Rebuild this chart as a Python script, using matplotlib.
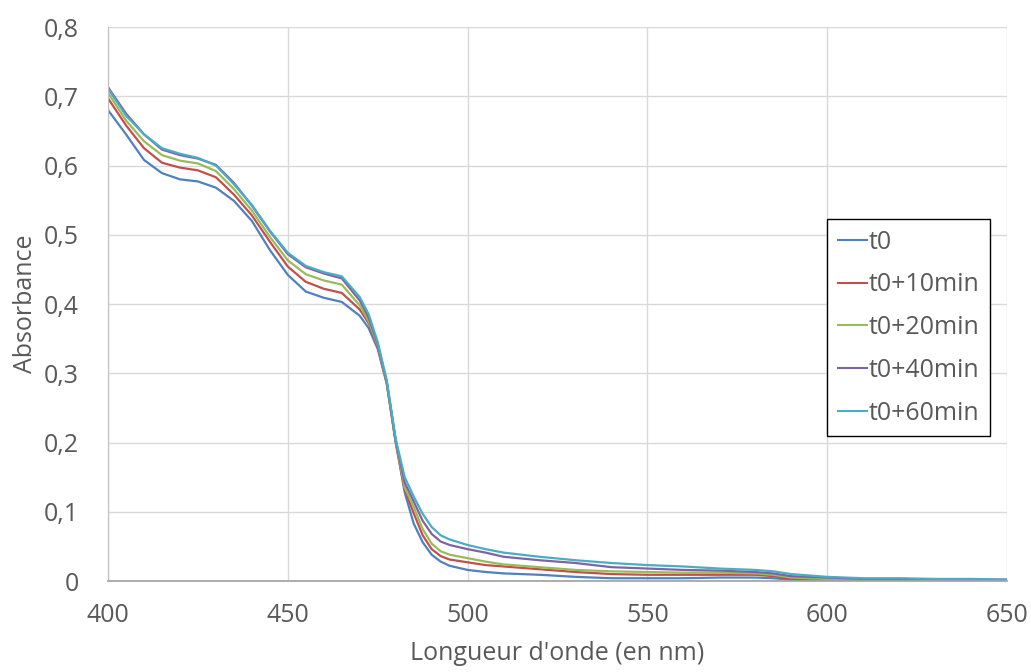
import matplotlib.pyplot as plt

plt.rcParams['font.family'] = ['Open Sans', 'DejaVu Sans']

wavelength = [400, 405, 410, 415, 420, 425, 430, 435, 440, 445, 450, 455, 460, 465,
              470, 472.5, 475, 477.5, 480, 482.5, 485, 487.5, 490, 492.5, 495,
              500, 505, 510, 520, 530, 540, 550, 560, 570, 580, 585, 590,
              600, 610, 620, 630, 640, 650]

t0 = [0.680, 0.645, 0.608, 0.589, 0.580, 0.577, 0.568, 0.549, 0.520, 0.478, 0.442, 0.418, 0.409, 0.403,
      0.383, 0.365, 0.335, 0.285, 0.200, 0.128, 0.083, 0.056, 0.038, 0.028, 0.022,
      0.016, 0.013, 0.011, 0.009, 0.006, 0.004, 0.004, 0.004, 0.005, 0.005, 0.004, 0.002,
      0.001, 0.001, 0.001, 0.001, 0.001, 0.001]

t10 = [0.697, 0.658, 0.625, 0.604, 0.597, 0.593, 0.583, 0.558, 0.528, 0.490, 0.454, 0.432, 0.422, 0.416,
       0.392, 0.372, 0.338, 0.286, 0.201, 0.132, 0.098, 0.066, 0.046, 0.036, 0.031,
       0.027, 0.023, 0.021, 0.017, 0.013, 0.010, 0.009, 0.009, 0.009, 0.009, 0.007, 0.003,
       0.002, 0.001, 0.001, 0.001, 0.001, 0.001]

t20 = [0.705, 0.665, 0.635, 0.615, 0.607, 0.603, 0.592, 0.566, 0.535, 0.497, 0.463, 0.443, 0.434, 0.428,
       0.398, 0.375, 0.340, 0.287, 0.202, 0.135, 0.107, 0.075, 0.054, 0.043, 0.038,
       0.033, 0.028, 0.024, 0.020, 0.016, 0.014, 0.013, 0.012, 0.012, 0.011, 0.009, 0.005,
       0.003, 0.002, 0.002, 0.002, 0.002, 0.001]

t40 = [0.713, 0.675, 0.645, 0.623, 0.615, 0.610, 0.601, 0.575, 0.542, 0.505, 0.472, 0.453, 0.444, 0.437,
       0.405, 0.380, 0.342, 0.288, 0.203, 0.142, 0.115, 0.087, 0.068, 0.057, 0.052,
       0.046, 0.041, 0.035, 0.030, 0.026, 0.020, 0.018, 0.016, 0.015, 0.013, 0.011, 0.007,
       0.005, 0.003, 0.003, 0.002, 0.002, 0.002]

t60 = [0.711, 0.672, 0.645, 0.625, 0.617, 0.611, 0.600, 0.573, 0.543, 0.506, 0.474, 0.455, 0.446, 0.440,
       0.410, 0.385, 0.345, 0.290, 0.205, 0.150, 0.122, 0.097, 0.078, 0.066, 0.060,
       0.052, 0.046, 0.041, 0.035, 0.030, 0.026, 0.023, 0.021, 0.018, 0.016, 0.014, 0.010,
       0.006, 0.004, 0.004, 0.003, 0.003, 0.002]

labels = ['t0', 't0+10min', 't0+20min', 't0+40min', 't0+60min']
colors = ['#4F81BD', '#C0504D', '#9BBB59', '#8064A2', '#4BACC6']

x_ticks = [400, 450, 500, 550, 600, 650]
y_ticks = [0, 0.1, 0.2, 0.3, 0.4, 0.5, 0.6, 0.7, 0.8]
y_ticklabels = ['0', '0,1', '0,2', '0,3', '0,4', '0,5', '0,6', '0,7', '0,8']

fs = 18
txt_col = '#595959'

fig = plt.figure(figsize=(10.31, 6.72), dpi=100)
ax = fig.add_axes([0.1048, 0.1354, 0.8719, 0.8244])

for series, lab, col in zip([t0, t10, t20, t40, t60], labels, colors):
    ax.plot(wavelength, series, color=col, lw=1.6, label=lab)

ax.set_xlim(400, 650)
ax.set_ylim(0, 0.8)
ax.set_xticks(x_ticks)
ax.set_yticks(y_ticks)
ax.set_yticklabels(y_ticklabels)
ax.tick_params(axis='both', length=0, labelsize=fs, colors=txt_col)
ax.tick_params(axis='y', pad=21)
ax.tick_params(axis='x', pad=16)

ax.grid(True, color='#D9D9D9', lw=1)
ax.set_axisbelow(True)
for s in ['top', 'right']:
    ax.spines[s].set_visible(False)
ax.spines['left'].set_color('#BFBFBF')
ax.spines['bottom'].set_color('#A6A6A6')
ax.spines['bottom'].set_linewidth(1.3)

ax.set_xlabel("Longueur d'onde (en nm)", fontsize=fs, color=txt_col, labelpad=9)
ax.set_ylabel('Absorbance', fontsize=fs, color=txt_col, labelpad=4)

leg = ax.legend(loc='upper left', bbox_to_anchor=(0.7998, 0.6534), borderaxespad=0,
                fontsize=fs, handlelength=1.16, handletextpad=0.1, labelspacing=0.71,
                borderpad=0.42, fancybox=False, framealpha=1, edgecolor='black')
leg.get_frame().set_linewidth(1.0)
for t in leg.get_texts():
    t.set_color(txt_col)
for h in leg.get_lines():
    h.set_linewidth(1.5)

fig.savefig('out.png', dpi=100)
